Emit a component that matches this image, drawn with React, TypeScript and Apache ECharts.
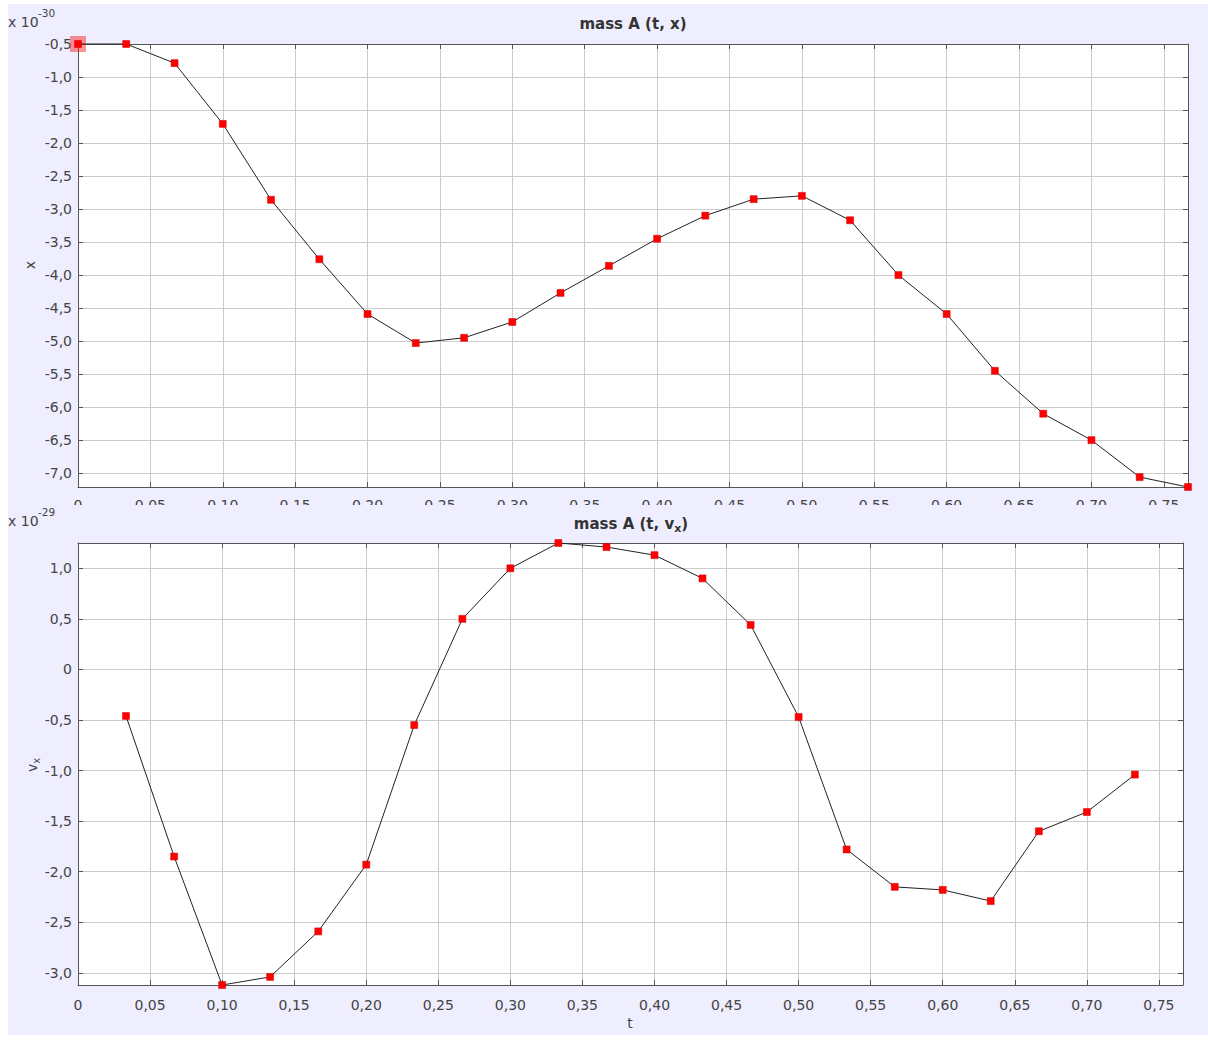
import React, { useEffect, useRef } from 'react';
import * as echarts from 'echarts';

// ---------- data ----------
const tTop = [0, 0.0333, 0.0667, 0.1, 0.1333, 0.1667, 0.2, 0.2333, 0.2667, 0.3, 0.3333, 0.3667, 0.4, 0.4333, 0.4667, 0.5, 0.5333, 0.5667, 0.6, 0.6333, 0.6667, 0.7, 0.7333, 0.7667];
const xVals = [-0.5, -0.5, -0.79, -1.71, -2.86, -3.76, -4.59, -5.03, -4.95, -4.71, -4.27, -3.86, -3.45, -3.1, -2.85, -2.8, -3.17, -4.0, -4.59, -5.45, -6.1, -6.5, -7.06, -7.21];

const tBottom = [0.0333, 0.0667, 0.1, 0.1333, 0.1667, 0.2, 0.2333, 0.2667, 0.3, 0.3333, 0.3667, 0.4, 0.4333, 0.4667, 0.5, 0.5333, 0.5667, 0.6, 0.6333, 0.6667, 0.7, 0.7333];
const vxVals = [-0.46, -1.85, -3.12, -3.04, -2.59, -1.93, -0.55, 0.5, 1.0, 1.25, 1.21, 1.13, 0.9, 0.44, -0.47, -1.78, -2.15, -2.18, -2.29, -1.6, -1.41, -1.04];

const tMax = 0.7667;
const tTicks = [0, 0.05, 0.1, 0.15, 0.2, 0.25, 0.3, 0.35, 0.4, 0.45, 0.5, 0.55, 0.6, 0.65, 0.7, 0.75];
const xTicks = [-7, -6.5, -6, -5.5, -5, -4.5, -4, -3.5, -3, -2.5, -2, -1.5, -1, -0.5];
const vxTicks = [-3, -2.5, -2, -1.5, -1, -0.5, 0, 0.5, 1];

const FONT = 'DejaVu Sans';
const LABEL_COLOR = '#444';
const AXIS_COLOR = '#555';

const fmt = (digits: number) => (v: number) =>
  Math.abs(v) < 1e-9 ? '0' : v.toFixed(digits).replace('.', ',');

function makeOption(cfg: {
  ts: number[];
  vals: number[];
  yTicks: number[];
  grid: { left: number; top: number; width: number; height: number };
  xLabelMargin: number;
  highlightFirst: boolean;
  graphics: any[];
}) {
  const yMin = Math.min(...cfg.vals);
  const yMax = Math.max(...cfg.vals);
  const data = cfg.ts.map((t, i) => [t, cfg.vals[i]]);
  const tickStyle = { show: true, inside: true, length: 5, lineStyle: { color: AXIS_COLOR, width: 1 } };
  const axisLine = { show: true, onZero: false, lineStyle: { color: AXIS_COLOR, width: 1 } };
  const series: any[] = [
    {
      type: 'line',
      data,
      xAxisIndex: 0,
      yAxisIndex: 0,
      symbol: 'rect',
      symbolSize: 7,
      showAllSymbol: true,
      clip: false,
      z: 3,
      lineStyle: { color: '#222', width: 1 },
      itemStyle: { color: '#ff0000', borderColor: '#d00000', borderWidth: 0.5 },
    },
  ];
  if (cfg.highlightFirst) {
    series.push({
      type: 'scatter',
      data: [data[0]],
      xAxisIndex: 0,
      yAxisIndex: 0,
      symbol: 'rect',
      symbolSize: 16,
      clip: false,
      z: 2,
      itemStyle: { color: 'rgba(255,30,30,0.6)' },
    });
  }
  return {
    animation: false,
    backgroundColor: 'transparent',
    grid: {
      ...cfg.grid,
      containLabel: false,
      outerBoundsMode: 'none',
      show: true,
      backgroundColor: '#ffffff',
      borderWidth: 0,
    },
    xAxis: [
      {
        type: 'value',
        position: 'bottom',
        min: 0,
        max: tMax,
        axisLine,
        axisTick: { ...tickStyle, customValues: tTicks },
        axisLabel: {
          customValues: tTicks,
          formatter: fmt(2),
          color: LABEL_COLOR,
          fontFamily: FONT,
          fontSize: 14,
          margin: cfg.xLabelMargin,
        },
        splitLine: { show: true, lineStyle: { color: '#cccccc', width: 1 } },
      },
      {
        type: 'value',
        position: 'top',
        min: 0,
        max: tMax,
        axisLine,
        axisTick: { ...tickStyle, customValues: tTicks },
        axisLabel: { show: false },
        splitLine: { show: false },
      },
    ],
    yAxis: [
      {
        type: 'value',
        position: 'left',
        min: yMin,
        max: yMax,
        axisLine,
        axisTick: { ...tickStyle, customValues: cfg.yTicks },
        axisLabel: {
          customValues: cfg.yTicks,
          formatter: fmt(1),
          color: LABEL_COLOR,
          fontFamily: FONT,
          fontSize: 14,
          margin: 6,
        },
        splitLine: { show: true, lineStyle: { color: '#cccccc', width: 1 } },
      },
      {
        type: 'value',
        position: 'right',
        min: yMin,
        max: yMax,
        axisLine,
        axisTick: { ...tickStyle, customValues: cfg.yTicks },
        axisLabel: { show: false },
        splitLine: { show: false },
      },
    ],
    series,
    graphic: cfg.graphics,
  };
}

function exponentLabel(exp: string, y: number) {
  return [
    {
      type: 'text',
      left: 0,
      top: y - 9,
      style: { text: 'x 10', fontFamily: FONT, fontSize: 14, fill: LABEL_COLOR },
    },
    {
      type: 'text',
      left: 30,
      top: y - 17,
      style: { text: exp, fontFamily: FONT, fontSize: 10.5, fill: LABEL_COLOR },
    },
  ];
}

function ChartBox(props: { option: any; top: number; height: number }) {
  const ref = useRef<HTMLDivElement>(null);
  useEffect(() => {
    if (!ref.current) return;
    const chart = echarts.init(ref.current, undefined, { renderer: 'svg' });
    chart.setOption(props.option);
    return () => chart.dispose();
  }, []);
  return (
    <div
      ref={ref}
      style={{ position: 'absolute', left: 0, top: props.top, width: 1200, height: props.height, overflow: 'hidden' }}
    />
  );
}

export default function App() {
  const topOption = makeOption({
    ts: tTop,
    vals: xVals,
    yTicks: xTicks,
    grid: { left: 70, top: 40, width: 1110, height: 443 },
    xLabelMargin: 11,
    highlightFirst: true,
    graphics: [
      ...exponentLabel('-30', 20),
      {
        type: 'text',
        x: 625,
        y: 20,
        style: {
          text: 'mass A (t, x)',
          fontFamily: FONT,
          fontWeight: 'bold',
          fontSize: 15,
          fill: '#333',
          align: 'center',
          verticalAlign: 'middle',
        },
      },
      {
        type: 'text',
        x: 22,
        y: 261,
        rotation: Math.PI / 2,
        style: {
          text: 'x',
          fontFamily: FONT,
          fontSize: 14,
          fill: LABEL_COLOR,
          align: 'center',
          verticalAlign: 'middle',
        },
      },
    ],
  });

  const bottomOption = makeOption({
    ts: tBottom,
    vals: vxVals,
    yTicks: vxTicks,
    grid: { left: 70, top: 38, width: 1105, height: 442 },
    xLabelMargin: 13,
    highlightFirst: false,
    graphics: [
      ...exponentLabel('-29', 18),
      {
        type: 'text',
        x: 623,
        y: 19,
        style: {
          text: '{b|mass A (t, v}{s|x}{b|)}',
          align: 'center',
          verticalAlign: 'middle',
          rich: {
            b: { fontFamily: FONT, fontWeight: 'bold', fontSize: 15, fill: '#333', color: '#333', lineHeight: 20 },
            s: {
              fontFamily: FONT,
              fontWeight: 'bold',
              fontSize: 11,
              fill: '#333',
              color: '#333',
              verticalAlign: 'bottom',
              lineHeight: 12,
            },
          },
        },
      },
      {
        type: 'text',
        x: 24,
        y: 260,
        rotation: Math.PI / 2,
        style: {
          text: '{a|v}{s|x}',
          align: 'center',
          verticalAlign: 'middle',
          rich: {
            a: { fontFamily: FONT, fontSize: 14, fill: LABEL_COLOR, color: LABEL_COLOR, lineHeight: 18 },
            s: {
              fontFamily: FONT,
              fontSize: 10,
              fill: LABEL_COLOR,
              color: LABEL_COLOR,
              verticalAlign: 'bottom',
              lineHeight: 11,
            },
          },
        },
      },
      {
        type: 'text',
        x: 622,
        y: 518,
        style: {
          text: 't',
          fontFamily: FONT,
          fontSize: 14,
          fill: LABEL_COLOR,
          align: 'center',
          verticalAlign: 'middle',
        },
      },
    ],
  });

  return (
    <div
      style={{
        position: 'absolute',
        left: 8,
        top: 4,
        width: 1200,
        height: 1031,
        background: '#eeeeff',
        overflow: 'hidden',
      }}
    >
      <ChartBox option={topOption} top={0} height={501} />
      <ChartBox option={bottomOption} top={501} height={530} />
    </div>
  );
}
